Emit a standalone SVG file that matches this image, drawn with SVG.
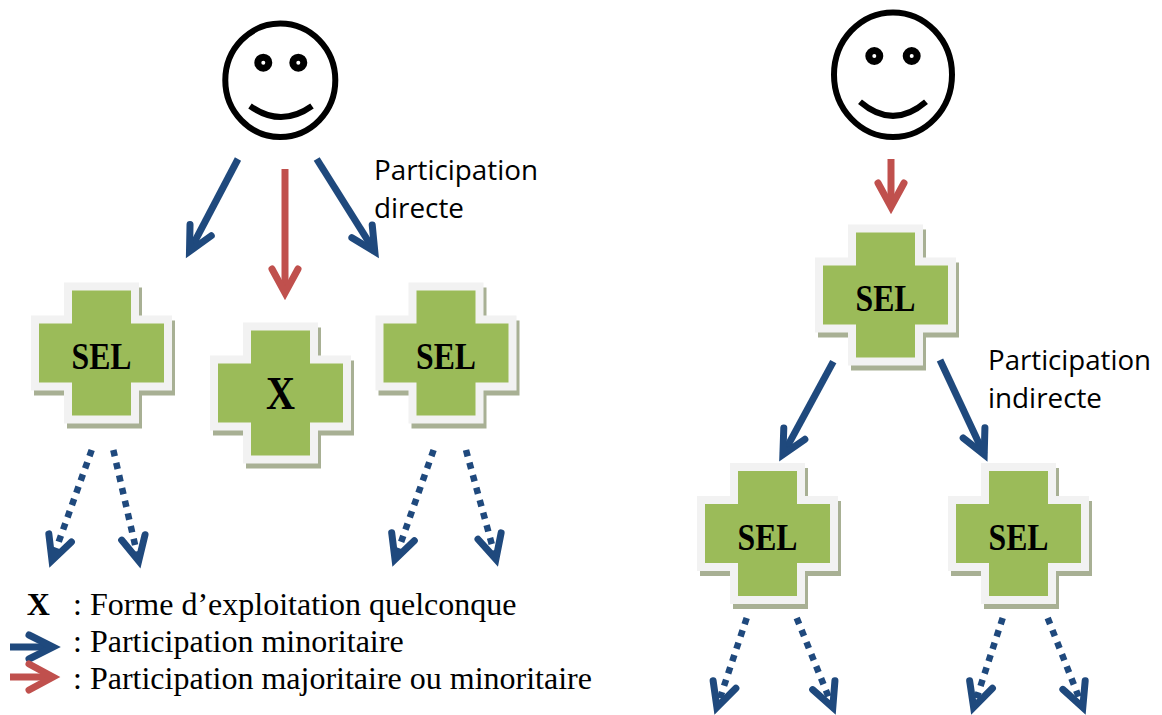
<svg xmlns="http://www.w3.org/2000/svg" width="1162" height="715" viewBox="0 0 1162 715">
<style>
.face{fill:none;stroke:#000;stroke-width:6}
.eye{fill:#fff;stroke:#000;stroke-width:7}
.green{fill:#9bbb59}
.border{fill:#f2f2f2}
.shadow{fill:#a8b094}
.sel{font-family:"Liberation Serif","Times New Roman",serif;font-weight:bold;font-size:37px;fill:#000;text-anchor:middle}
.lbl{font-family:"Open Sans","Liberation Sans",sans-serif;font-size:27px;fill:#000}
.leg{font-family:"Liberation Serif","Times New Roman",serif;font-size:32px;fill:#000}
.blue{fill:none;stroke:#1f497d;stroke-width:7;marker-end:url(#hb)}
.red{fill:none;stroke:#c0504d;stroke-width:7;marker-end:url(#hr)}
.dot{fill:none;stroke:#1f497d;stroke-width:6.5;stroke-dasharray:6.5 6.5;marker-end:url(#hb)}
</style>
<defs>
<marker id="hb" markerUnits="userSpaceOnUse" orient="auto" overflow="visible" markerWidth="1" markerHeight="1" refX="0" refY="0">
<path d="M-24,-12 L0,0 L-24,12" fill="none" stroke="#1f497d" stroke-width="7" stroke-linecap="round" stroke-linejoin="miter" stroke-dasharray="none"/>
</marker>
<marker id="hr" markerUnits="userSpaceOnUse" orient="auto" overflow="visible" markerWidth="1" markerHeight="1" refX="0" refY="0">
<path d="M-24,-13 L0,0 L-24,13" fill="none" stroke="#c0504d" stroke-width="7" stroke-linecap="round" stroke-linejoin="miter"/>
</marker>
<path id="crossB" d="M-37.5,-70.5 H37.5 V-37.5 H70.5 V37.5 H37.5 V70.5 H-37.5 V37.5 H-70.5 V-37.5 H-37.5 Z"/>
<path id="crossG" d="M-29.5,-62.5 H29.5 V-29.5 H62.5 V29.5 H29.5 V62.5 H-29.5 V29.5 H-62.5 V-29.5 H-29.5 Z"/>
</defs>

<g id="person1">
<ellipse class="face" cx="280.3" cy="80.3" rx="55" ry="56.7"/>
<circle class="eye" cx="263.3" cy="62.7" r="5.5"/>
<circle class="eye" cx="298.3" cy="62.7" r="5.5"/>
<path class="face" d="M250,106 Q281,128 312,106"/>
</g>

<g id="person2">
<ellipse class="face" cx="893" cy="74.7" rx="59" ry="62.3"/>
<circle class="eye" cx="874.3" cy="56" r="5.5"/>
<circle class="eye" cx="911.7" cy="56" r="5.5"/>
<path class="face" d="M860,101.7 Q893,130 926,101.7"/>
</g>

<g id="sel1" transform="translate(101.5,353)">
<use href="#crossB" class="shadow" x="3" y="5"/>
<use href="#crossB" class="border"/>
<use href="#crossG" class="green"/>
<text class="sel" x="0" y="16" textLength="60" lengthAdjust="spacingAndGlyphs">SEL</text>
</g>

<g id="x1" transform="translate(280.5,393)">
<use href="#crossB" class="shadow" x="3" y="5"/>
<use href="#crossB" class="border"/>
<use href="#crossG" class="green"/>
<text class="sel" x="0" y="16" style="font-size:46px" textLength="29" lengthAdjust="spacingAndGlyphs">X</text>
</g>

<g id="sel2" transform="translate(446,353)">
<use href="#crossB" class="shadow" x="3" y="5"/>
<use href="#crossB" class="border"/>
<use href="#crossG" class="green"/>
<text class="sel" x="0" y="16" textLength="60" lengthAdjust="spacingAndGlyphs">SEL</text>
</g>

<g id="sel3" transform="translate(885.5,295)">
<use href="#crossB" class="shadow" x="3" y="5"/>
<use href="#crossB" class="border"/>
<use href="#crossG" class="green"/>
<text class="sel" x="0" y="16" textLength="60" lengthAdjust="spacingAndGlyphs">SEL</text>
</g>

<g id="sel4" transform="translate(767.5,533.5)">
<use href="#crossB" class="shadow" x="3" y="5"/>
<use href="#crossB" class="border"/>
<use href="#crossG" class="green"/>
<text class="sel" x="0" y="16" textLength="60" lengthAdjust="spacingAndGlyphs">SEL</text>
</g>

<g id="sel5" transform="translate(1018.5,533.5)">
<use href="#crossB" class="shadow" x="3" y="5"/>
<use href="#crossB" class="border"/>
<use href="#crossG" class="green"/>
<text class="sel" x="0" y="16" textLength="60" lengthAdjust="spacingAndGlyphs">SEL</text>
</g>

<g id="connectors">
<line class="blue" x1="238" y1="159" x2="189.5" y2="251.4"/>
<line class="red" x1="285" y1="169" x2="285" y2="293"/>
<line class="blue" x1="316.7" y1="159" x2="374.8" y2="251.6"/>
<line class="red" x1="891" y1="159" x2="891" y2="207"/>
<line class="blue" x1="833.3" y1="361.7" x2="782.9" y2="454.7"/>
<line class="blue" x1="940" y1="360" x2="984.2" y2="454.6"/>
<line class="dot" x1="91.7" y1="450" x2="52" y2="560.5"/>
<line class="dot" x1="113.3" y1="450" x2="138.7" y2="560.8"/>
<line class="dot" x1="433.6" y1="450" x2="395" y2="559.3"/>
<line class="dot" x1="466" y1="450" x2="495.9" y2="559.2"/>
<line class="dot" x1="746.7" y1="618" x2="716.9" y2="707.3"/>
<line class="dot" x1="796.7" y1="618" x2="832.8" y2="707.4"/>
<line class="dot" x1="1002.7" y1="618" x2="973.6" y2="707.3"/>
<line class="dot" x1="1047.7" y1="618" x2="1082.8" y2="707.4"/>
</g>

<g id="label-directe">
<text class="lbl" x="374" y="180" textLength="164" lengthAdjust="spacingAndGlyphs">Participation</text>
<text class="lbl" x="374" y="218" textLength="90" lengthAdjust="spacingAndGlyphs">directe</text>
</g>
<g id="label-indirecte">
<text class="lbl" x="988" y="370" textLength="163" lengthAdjust="spacingAndGlyphs">Participation</text>
<text class="lbl" x="988" y="408" textLength="114" lengthAdjust="spacingAndGlyphs">indirecte</text>
</g>

<g id="legend">
<text class="leg" x="26.7" y="615" style="font-weight:bold">X</text>
<text class="leg" x="73" y="615">: Forme d’exploitation quelconque</text>
<line class="blue" x1="10" y1="647" x2="53" y2="647"/>
<text class="leg" x="73" y="652">: Participation minoritaire</text>
<line class="red" x1="10" y1="677" x2="53" y2="677"/>
<text class="leg" x="73" y="689">: Participation majoritaire ou minoritaire</text>
</g>
</svg>
